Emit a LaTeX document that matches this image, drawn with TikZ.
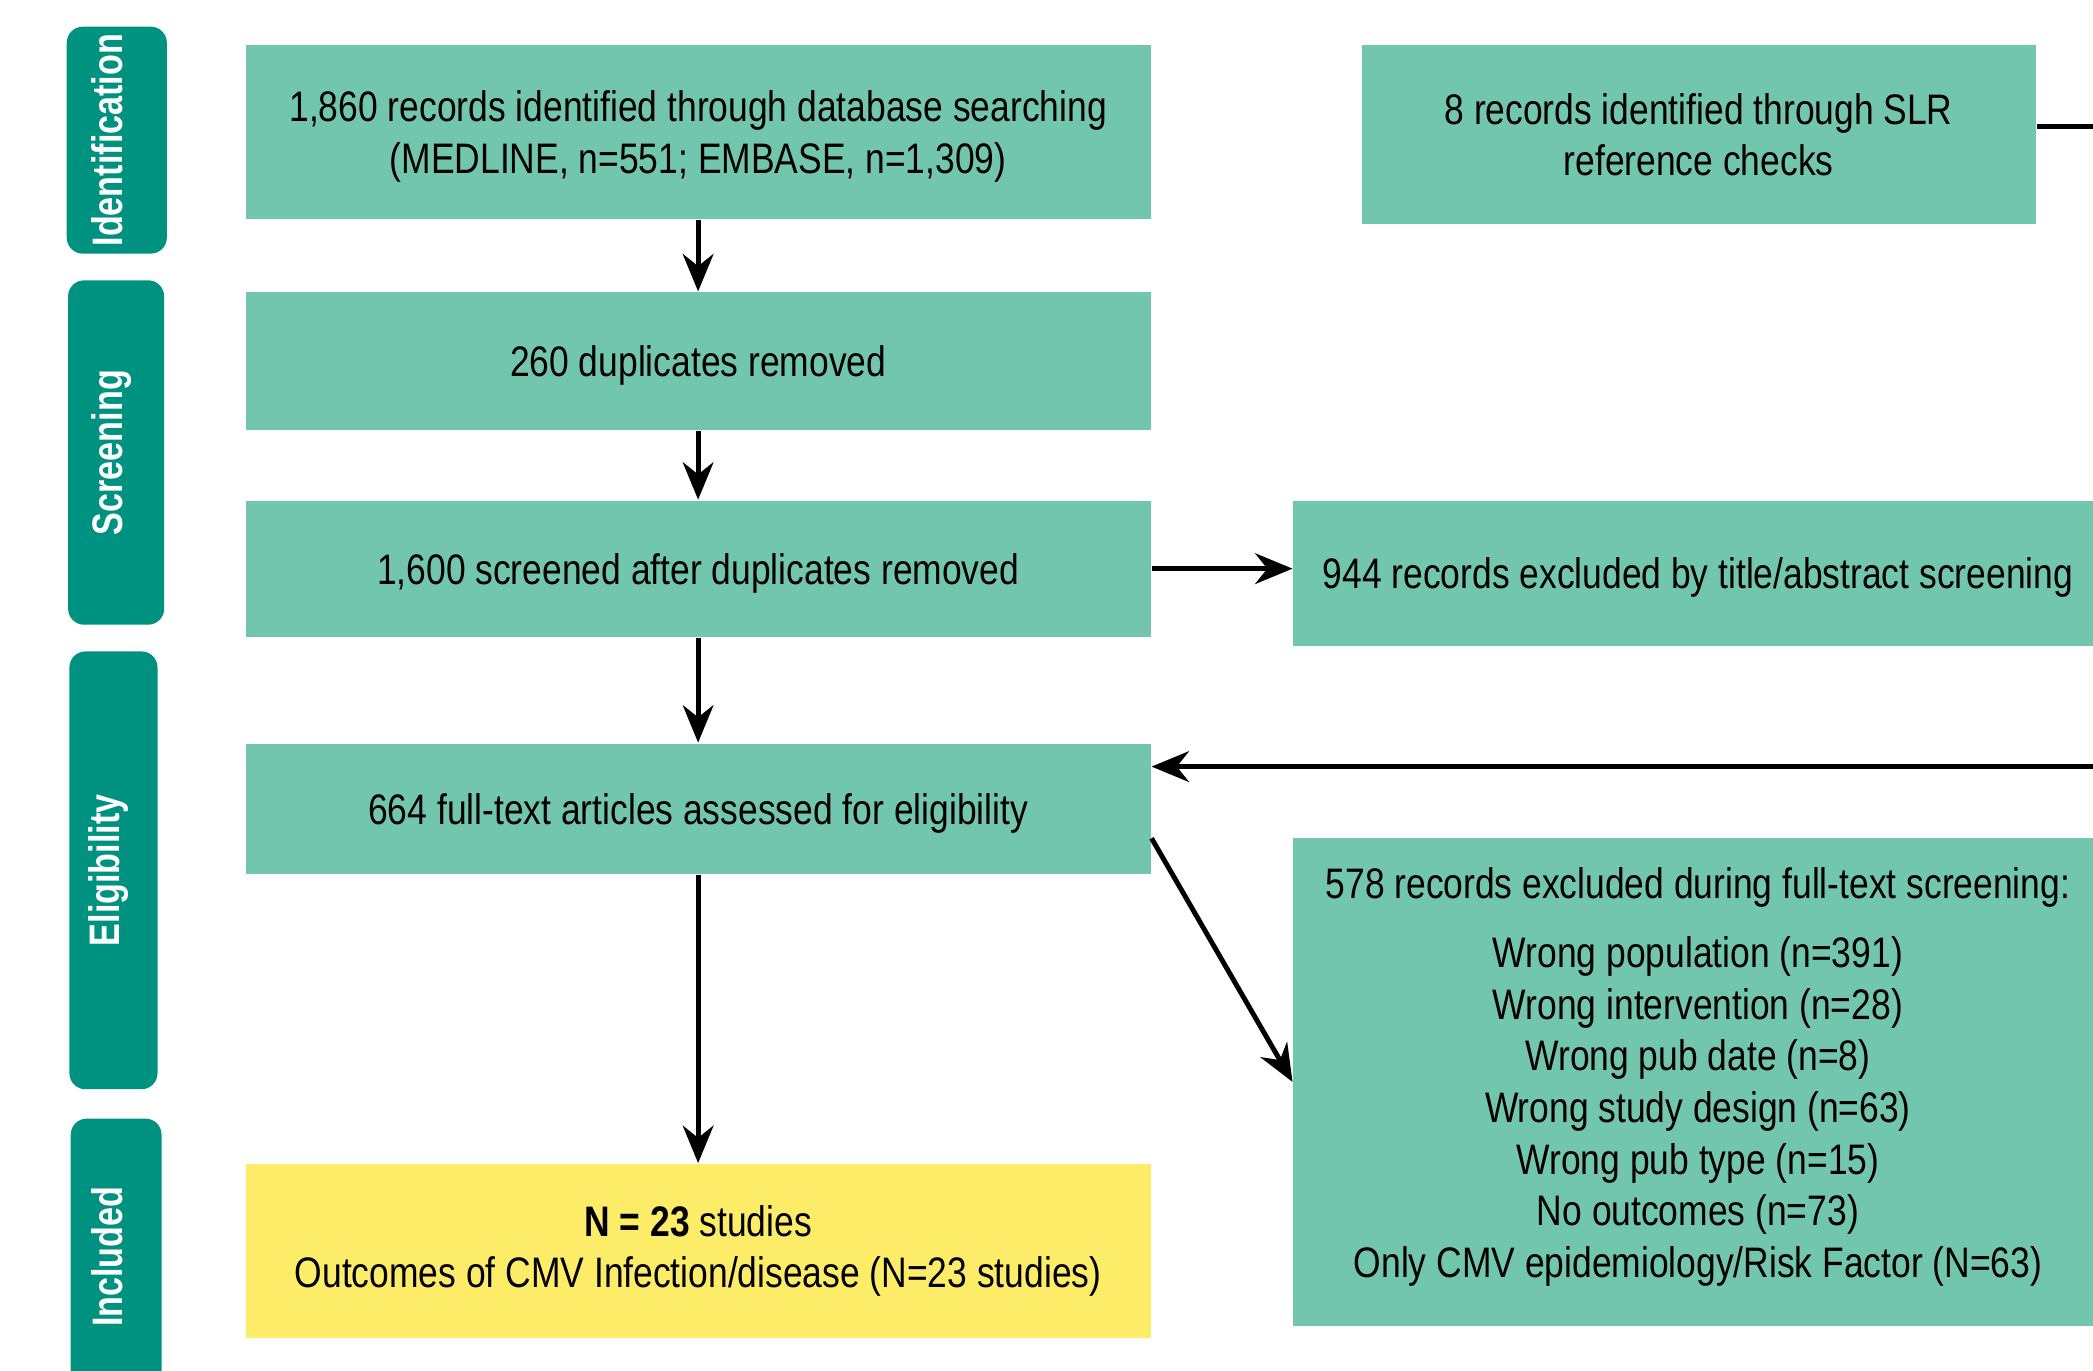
\documentclass[tikz,border=0pt]{standalone}
\usepackage{fontspec}
\setmainfont{Liberation Sans}[FakeStretch=0.83]
\newfontfamily\stagefont{Liberation Sans}[FakeStretch=0.8]
\usetikzlibrary{positioning,arrows.meta}

\definecolor{boxgreen}{RGB}{115,198,174}
\definecolor{stagegreen}{RGB}{0,146,128}
\definecolor{inclyellow}{RGB}{253,236,104}

\tikzset{
  box/.style={fill=boxgreen,minimum width=6.78cm,align=center,inner sep=0pt,
    font=\fontsize{9.1}{11}\selectfont},
  flat/.style={text depth=0pt},
  stage/.style={fill=stagegreen,rounded corners=1.2mm,text=white,rotate=90,
    inner sep=0pt,text height=0.23cm,text depth=0.14cm,
    font=\stagefont\fontsize{9.1}{11}\selectfont\bfseries},
}

\begin{document}
\begin{tikzpicture}[node distance=1cm,on grid,auto]
    \useasboundingbox (0,0) rectangle (15.68,-10.27);
    \clip (0,0) rectangle (15.68,-10.27);

    % stages
    \node[stage,minimum width=1.70cm,minimum height=0.75cm] (ident) at (0.875,-1.05) {Identification};
    \node[stage,minimum width=2.58cm,minimum height=0.72cm] (scr) at (0.87,-3.39) {Screening};
    \node[stage,minimum width=3.28cm,minimum height=0.66cm] (elig) at (0.85,-6.52) {Eligibility};
    \node[stage,minimum width=2.07cm,minimum height=0.68cm] (inc) at (0.87,-9.415) {Included};

    % main column
    \node[box,flat,minimum height=1.30cm] (search) at (5.23,-0.99) {1,860 records identified through database searching\\(MEDLINE, n=551; EMBASE, n=1,309)};
    \node[box,flat,minimum height=1.03cm] (dup) [below=1.715cm of search] {260 duplicates removed};
    \node[box,flat,minimum height=1.02cm] (screen) [below=1.555cm of dup] {1,600 screened after duplicates removed};
    \node[box,flat,minimum height=0.98cm] (full) [below=1.80cm of screen] {664 full-text articles assessed for eligibility};
    \node[box,minimum height=1.30cm,fill=inclyellow] (incl) [below=3.31cm of full] {\textbf{N = 23} studies\\Outcomes of CMV Infection/disease (N=23 studies)};

    % right column
    \node[box,minimum width=5.05cm,minimum height=1.34cm] (slr) at (12.725,-1.01) {8 records identified through SLR\\reference checks};
    \node[box,flat,minimum width=6.06cm,minimum height=1.09cm] (title) at (12.72,-4.295) {944 records excluded by title/abstract screening};
    \node[box,minimum width=6.06cm,minimum height=3.65cm,text depth=0.14cm] (excl) at (12.72,-8.105) {578 records excluded during full-text screening:\\[1.3mm]
      Wrong population (n=391)\\
      Wrong intervention (n=28)\\
      Wrong pub date (n=8)\\
      Wrong study design (n=63)\\
      Wrong pub type (n=15)\\
      No outcomes (n=73)\\
      Only CMV epidemiology/Risk Factor (N=63)};

    \path[-{Stealth[length=2.8mm,width=2.3mm]},line width=1.05pt]
        (search) edge (dup)
        (dup) edge (screen)
        (screen) edge (full)
        (full) edge (incl)
        (screen) edge (screen -| title.west)
        ([yshift=-2.2mm]full.east) edge (excl.west);
    \draw[-{Stealth[length=2.8mm,width=2.3mm]},line width=1.05pt]
        ([yshift=0.6mm]slr.east) -- ++(0.8,0) |- ([yshift=-1.8mm]full.north east);
\end{tikzpicture}
\end{document}
